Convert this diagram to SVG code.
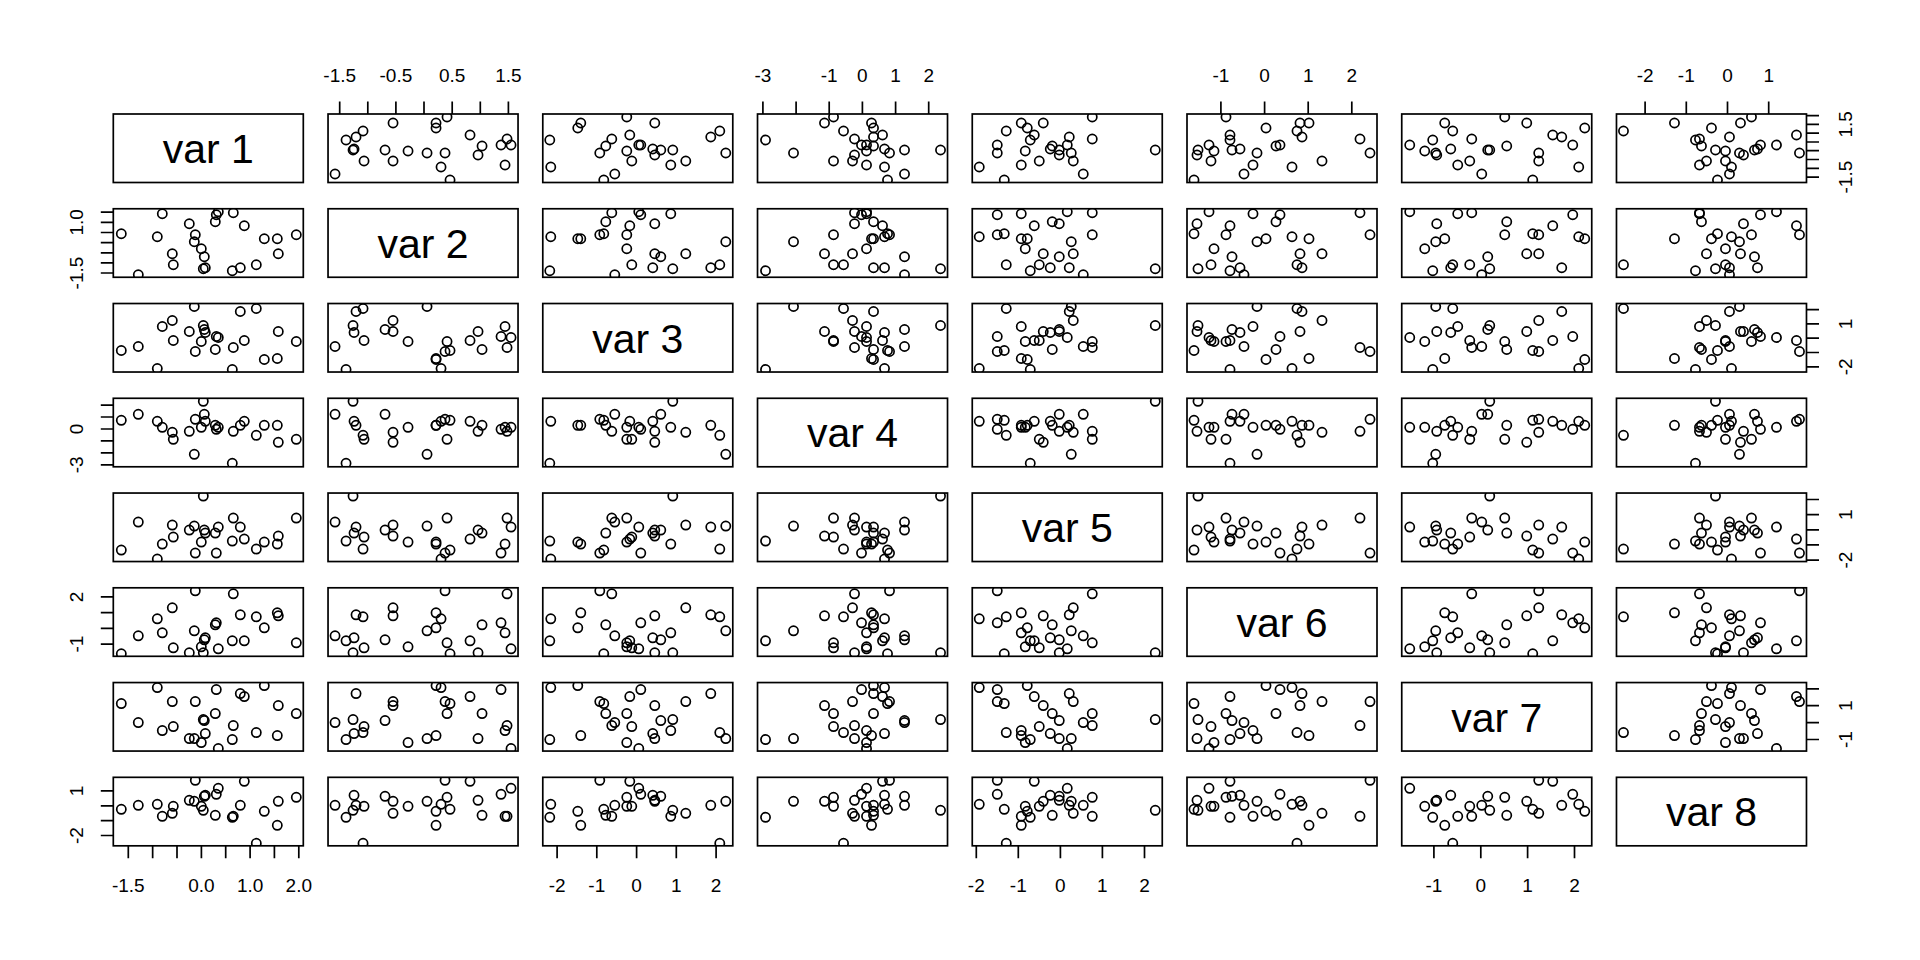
<svg xmlns="http://www.w3.org/2000/svg" width="1920" height="960" viewBox="0 0 1920 960">
<style>
.b{fill:none;stroke:#000;stroke-width:1.7}
.k{fill:none;stroke:#000;stroke-width:1.7}
.p{fill:none;stroke:none;marker-start:url(#c);marker-mid:url(#c);marker-end:url(#c)}
text{font-family:"Liberation Sans",Arial,Helvetica,sans-serif;fill:#000}
.t{font-size:19px;text-anchor:middle}
.d{font-size:41px;text-anchor:middle}
</style>
<defs>
<marker id="c" viewBox="-7 -7 14 14" markerWidth="14" markerHeight="14" markerUnits="userSpaceOnUse" refX="0" refY="0" overflow="visible"><circle r="4.6" fill="none" stroke="#000" stroke-width="1.7"/></marker>
<clipPath id="cp"><rect width="190" height="68.5"/></clipPath>
</defs>
<rect width="1920" height="960" fill="#fff"/>

<g id="row1">
<g id="p1-1" transform="translate(113.3,114)"><rect class="b" width="190" height="68.5"/><text class="d" x="95" y="49">var 1</text></g>
<g id="p1-2" transform="translate(328.04,114)"><rect class="b" width="190" height="68.5"/><g clip-path="url(#cp)"><polyline class="p" points="122,66 7,60 113,53 177,51 65,47 36,47 150,41 99,39 117,39 80,37 25,36 57,36 26,35 154,32 173,31 183,31 18,26 179,25 28,23 142,21 35,17 108,14 108,9 65,9 119,3"/></g></g>
<g id="p1-3" transform="translate(542.78,114)"><rect class="b" width="190" height="68.5"/><g clip-path="url(#cp)"><polyline class="p" points="61,66 72,60 8,53 128,51 143,47 89,47 112,41 183,39 57,39 84,37 130,36 118,36 110,35 63,32 98,31 96,31 7,26 69,25 168,23 87,21 177,17 35,14 38,9 112,9 84,3"/></g></g>
<g id="p1-4" transform="translate(757.52,114)"><rect class="b" width="190" height="68.5"/><g clip-path="url(#cp)"><polyline class="p" points="130,66 147,60 127,53 109,51 95,47 76,47 97,41 36,39 132,39 109,37 183,36 147,36 127,35 116,32 104,31 109,31 8,26 97,25 116,23 125,21 86,17 116,14 114,9 67,9 76,3"/></g></g>
<g id="p1-5" transform="translate(972.26,114)"><rect class="b" width="190" height="68.5"/><g clip-path="url(#cp)"><polyline class="p" points="32,66 111,60 7,53 49,51 101,47 67,47 87,41 99,39 25,39 53,37 183,36 87,36 78,35 80,32 25,31 95,31 58,26 120,25 97,23 62,21 34,17 55,14 49,9 71,9 120,3"/></g></g>
<g id="p1-6" transform="translate(1187,114)"><rect class="b" width="190" height="68.5"/><g clip-path="url(#cp)"><polyline class="p" points="7,66 57,60 105,53 66,51 135,47 24,47 10,41 70,39 183,39 27,37 11,36 45,36 53,35 89,32 93,31 22,31 43,26 173,25 115,23 43,21 110,17 79,14 122,9 113,9 39,3"/></g></g>
<g id="p1-7" transform="translate(1401.74,114)"><rect class="b" width="190" height="68.5"/><g clip-path="url(#cp)"><polyline class="p" points="131,66 80,60 177,53 56,51 137,47 68,47 35,41 34,39 137,39 23,37 88,36 86,36 49,35 105,32 171,31 8,31 31,26 70,25 160,23 151,21 51,17 183,14 43,9 125,9 103,3"/></g></g>
<g id="p1-8" transform="translate(1616.48,114)"><rect class="b" width="190" height="68.5"/><g clip-path="url(#cp)"><polyline class="p" points="101,66 113,60 115,53 83,51 90,47 109,47 127,41 123,39 183,39 109,37 99,36 138,36 141,35 85,32 144,31 160,31 79,26 83,25 113,23 180,21 7,17 95,14 58,9 124,9 135,3"/></g></g>
</g>

<g id="row2">
<g id="p2-1" transform="translate(113.3,208.76)"><rect class="b" width="190" height="68.5"/><g clip-path="url(#cp)"><polyline class="p" points="8,25 25,66 44,28 49,5 59,45 60,56 76,15 81,33 82,26 88,40 90,60 91,48 92,59 102,13 103,6 105,3 119,62 120,4 127,59 131,17 143,56 151,30 164,30 165,45 183,26"/></g></g>
<g id="p2-2" transform="translate(328.04,208.76)"><rect class="b" width="190" height="68.5"/><text class="d" x="95" y="49">var 2</text></g>
<g id="p2-3" transform="translate(542.78,208.76)"><rect class="b" width="190" height="68.5"/><g clip-path="url(#cp)"><polyline class="p" points="61,25 72,66 8,28 128,5 143,45 89,56 112,15 183,33 57,26 84,40 130,60 118,48 110,59 63,13 98,6 96,3 7,62 69,4 168,59 87,17 177,56 35,30 38,30 112,45 84,26"/></g></g>
<g id="p2-4" transform="translate(757.52,208.76)"><rect class="b" width="190" height="68.5"/><g clip-path="url(#cp)"><polyline class="p" points="130,25 147,66 127,28 109,5 95,45 76,56 97,15 36,33 132,26 109,40 183,60 147,48 127,59 116,13 104,6 109,3 8,62 97,4 116,59 125,17 86,56 116,30 114,30 67,45 76,26"/></g></g>
<g id="p2-5" transform="translate(972.26,208.76)"><rect class="b" width="190" height="68.5"/><g clip-path="url(#cp)"><polyline class="p" points="32,25 111,66 7,28 49,5 101,45 67,56 87,15 99,33 25,26 53,40 183,60 87,48 78,59 80,13 25,6 95,3 58,62 120,4 97,59 62,17 34,56 55,30 49,30 71,45 120,26"/></g></g>
<g id="p2-6" transform="translate(1187,208.76)"><rect class="b" width="190" height="68.5"/><g clip-path="url(#cp)"><polyline class="p" points="7,25 57,66 105,28 66,5 135,45 24,56 10,15 70,33 183,26 27,40 11,60 45,48 53,59 89,13 93,6 22,3 43,62 173,4 115,59 43,17 110,56 79,30 122,30 113,45 39,26"/></g></g>
<g id="p2-7" transform="translate(1401.74,208.76)"><rect class="b" width="190" height="68.5"/><g clip-path="url(#cp)"><polyline class="p" points="131,25 80,66 177,28 56,5 137,45 68,56 35,15 34,33 137,26 23,40 88,60 86,48 49,59 105,13 171,6 8,3 31,62 70,4 160,59 151,17 51,56 183,30 43,30 125,45 103,26"/></g></g>
<g id="p2-8" transform="translate(1616.48,208.76)"><rect class="b" width="190" height="68.5"/><g clip-path="url(#cp)"><polyline class="p" points="101,25 113,66 115,28 83,5 90,45 109,56 127,15 123,33 183,26 109,40 99,60 138,48 141,59 85,13 144,6 160,3 79,62 83,4 113,59 180,17 7,56 95,30 58,30 124,45 135,26"/></g></g>
</g>

<g id="row3">
<g id="p3-1" transform="translate(113.3,303.52)"><rect class="b" width="190" height="68.5"/><g clip-path="url(#cp)"><polyline class="p" points="8,47 25,43 44,65 49,23 59,17 60,37 76,28 81,3 82,48 88,38 90,22 91,26 92,29 102,46 103,33 105,34 119,66 120,44 127,8 131,37 143,5 151,56 164,55 165,28 183,38"/></g></g>
<g id="p3-2" transform="translate(328.04,303.52)"><rect class="b" width="190" height="68.5"/><g clip-path="url(#cp)"><polyline class="p" points="122,47 7,43 113,65 177,23 65,17 36,37 150,28 99,3 117,48 80,38 25,22 57,26 26,29 154,46 173,33 183,34 18,66 179,44 28,8 142,37 35,5 108,56 108,55 65,28 119,38"/></g></g>
<g id="p3-3" transform="translate(542.78,303.52)"><rect class="b" width="190" height="68.5"/><text class="d" x="95" y="49">var 3</text></g>
<g id="p3-4" transform="translate(757.52,303.52)"><rect class="b" width="190" height="68.5"/><g clip-path="url(#cp)"><polyline class="p" points="130,47 147,43 127,65 109,23 95,17 76,37 97,28 36,3 132,48 109,38 183,22 147,26 127,29 116,46 104,33 109,34 8,66 97,44 116,8 125,37 86,5 116,56 114,55 67,28 76,38"/></g></g>
<g id="p3-5" transform="translate(972.26,303.52)"><rect class="b" width="190" height="68.5"/><g clip-path="url(#cp)"><polyline class="p" points="32,47 111,43 7,65 49,23 101,17 67,37 87,28 99,3 25,48 53,38 183,22 87,26 78,29 80,46 25,33 95,34 58,66 120,44 97,8 62,37 34,5 55,56 49,55 71,28 120,38"/></g></g>
<g id="p3-6" transform="translate(1187,303.52)"><rect class="b" width="190" height="68.5"/><g clip-path="url(#cp)"><polyline class="p" points="7,47 57,43 105,65 66,23 135,17 24,37 10,28 70,3 183,48 27,38 11,22 45,26 53,29 89,46 93,33 22,34 43,66 173,44 115,8 43,37 110,5 79,56 122,55 113,28 39,38"/></g></g>
<g id="p3-7" transform="translate(1401.74,303.52)"><rect class="b" width="190" height="68.5"/><g clip-path="url(#cp)"><polyline class="p" points="131,47 80,43 177,65 56,23 137,17 68,37 35,28 34,3 137,48 23,38 88,22 86,26 49,29 105,46 171,33 8,34 31,66 70,44 160,8 151,37 51,5 183,56 43,55 125,28 103,38"/></g></g>
<g id="p3-8" transform="translate(1616.48,303.52)"><rect class="b" width="190" height="68.5"/><g clip-path="url(#cp)"><polyline class="p" points="101,47 113,43 115,65 83,23 90,17 109,37 127,28 123,3 183,48 109,38 99,22 138,26 141,29 85,46 144,33 160,34 79,66 83,44 113,8 180,37 7,5 95,56 58,55 124,28 135,38"/></g></g>
</g>

<g id="row4">
<g id="p4-1" transform="translate(113.3,398.28)"><rect class="b" width="190" height="68.5"/><g clip-path="url(#cp)"><polyline class="p" points="8,22 25,16 44,23 49,29 59,34 60,41 76,33 81,56 82,21 88,29 90,3 91,16 92,23 102,27 103,31 105,29 119,65 120,33 127,27 131,23 143,37 151,27 164,27 165,44 183,41"/></g></g>
<g id="p4-2" transform="translate(328.04,398.28)"><rect class="b" width="190" height="68.5"/><g clip-path="url(#cp)"><polyline class="p" points="122,22 7,16 113,23 177,29 65,34 36,41 150,33 99,56 117,21 80,29 25,3 57,16 26,23 154,27 173,31 183,29 18,65 179,33 28,27 142,23 35,37 108,27 108,27 65,44 119,41"/></g></g>
<g id="p4-3" transform="translate(542.78,398.28)"><rect class="b" width="190" height="68.5"/><g clip-path="url(#cp)"><polyline class="p" points="61,22 72,16 8,23 128,29 143,34 89,41 112,33 183,56 57,21 84,29 130,3 118,16 110,23 63,27 98,31 96,29 7,65 69,33 168,27 87,23 177,37 35,27 38,27 112,44 84,41"/></g></g>
<g id="p4-4" transform="translate(757.52,398.28)"><rect class="b" width="190" height="68.5"/><text class="d" x="95" y="49">var 4</text></g>
<g id="p4-5" transform="translate(972.26,398.28)"><rect class="b" width="190" height="68.5"/><g clip-path="url(#cp)"><polyline class="p" points="32,22 111,16 7,23 49,29 101,34 67,41 87,33 99,56 25,21 53,29 183,3 87,16 78,23 80,27 25,31 95,29 58,65 120,33 97,27 62,23 34,37 55,27 49,27 71,44 120,41"/></g></g>
<g id="p4-6" transform="translate(1187,398.28)"><rect class="b" width="190" height="68.5"/><g clip-path="url(#cp)"><polyline class="p" points="7,22 57,16 105,23 66,29 135,34 24,41 10,33 70,56 183,21 27,29 11,3 45,16 53,23 89,27 93,31 22,29 43,65 173,33 115,27 43,23 110,37 79,27 122,27 113,44 39,41"/></g></g>
<g id="p4-7" transform="translate(1401.74,398.28)"><rect class="b" width="190" height="68.5"/><g clip-path="url(#cp)"><polyline class="p" points="131,22 80,16 177,23 56,29 137,34 68,41 35,33 34,56 137,21 23,29 88,3 86,16 49,23 105,27 171,31 8,29 31,65 70,33 160,27 151,23 51,37 183,27 43,27 125,44 103,41"/></g></g>
<g id="p4-8" transform="translate(1616.48,398.28)"><rect class="b" width="190" height="68.5"/><g clip-path="url(#cp)"><polyline class="p" points="101,22 113,16 115,23 83,29 90,34 109,41 127,33 123,56 183,21 109,29 99,3 138,16 141,23 85,27 144,31 160,29 79,65 83,33 113,27 180,23 7,37 95,27 58,27 124,44 135,41"/></g></g>
</g>

<g id="row5">
<g id="p5-1" transform="translate(113.3,493.04)"><rect class="b" width="190" height="68.5"/><g clip-path="url(#cp)"><polyline class="p" points="8,57 25,29 44,66 49,51 59,32 60,44 76,37 81,33 82,60 88,49 90,3 91,37 92,40 102,40 103,60 105,34 119,48 120,25 127,34 131,46 143,56 151,49 164,51 165,43 183,25"/></g></g>
<g id="p5-2" transform="translate(328.04,493.04)"><rect class="b" width="190" height="68.5"/><g clip-path="url(#cp)"><polyline class="p" points="122,57 7,29 113,66 177,51 65,32 36,44 150,37 99,33 117,60 80,49 25,3 57,37 26,40 154,40 173,60 183,34 18,48 179,25 28,34 142,46 35,56 108,49 108,51 65,43 119,25"/></g></g>
<g id="p5-3" transform="translate(542.78,493.04)"><rect class="b" width="190" height="68.5"/><g clip-path="url(#cp)"><polyline class="p" points="61,57 72,29 8,66 128,51 143,32 89,44 112,37 183,33 57,60 84,49 130,3 118,37 110,40 63,40 98,60 96,34 7,48 69,25 168,34 87,46 177,56 35,49 38,51 112,43 84,25"/></g></g>
<g id="p5-4" transform="translate(757.52,493.04)"><rect class="b" width="190" height="68.5"/><g clip-path="url(#cp)"><polyline class="p" points="130,57 147,29 127,66 109,51 95,32 76,44 97,37 36,33 132,60 109,49 183,3 147,37 127,40 116,40 104,60 109,34 8,48 97,25 116,34 125,46 86,56 116,49 114,51 67,43 76,25"/></g></g>
<g id="p5-5" transform="translate(972.26,493.04)"><rect class="b" width="190" height="68.5"/><text class="d" x="95" y="49">var 5</text></g>
<g id="p5-6" transform="translate(1187,493.04)"><rect class="b" width="190" height="68.5"/><g clip-path="url(#cp)"><polyline class="p" points="7,57 57,29 105,66 66,51 135,32 24,44 10,37 70,33 183,60 27,49 11,3 45,37 53,40 89,40 93,60 22,34 43,48 173,25 115,34 43,46 110,56 79,49 122,51 113,43 39,25"/></g></g>
<g id="p5-7" transform="translate(1401.74,493.04)"><rect class="b" width="190" height="68.5"/><g clip-path="url(#cp)"><polyline class="p" points="131,57 80,29 177,66 56,51 137,32 68,44 35,37 34,33 137,60 23,49 88,3 86,37 49,40 105,40 171,60 8,34 31,48 70,25 160,34 151,46 51,56 183,49 43,51 125,43 103,25"/></g></g>
<g id="p5-8" transform="translate(1616.48,493.04)"><rect class="b" width="190" height="68.5"/><g clip-path="url(#cp)"><polyline class="p" points="101,57 113,29 115,66 83,51 90,32 109,44 127,37 123,33 183,60 109,49 99,3 138,37 141,40 85,40 144,60 160,34 79,48 83,25 113,34 180,46 7,56 95,49 58,51 124,43 135,25"/></g></g>
</g>

<g id="row6">
<g id="p6-1" transform="translate(113.3,587.8)"><rect class="b" width="190" height="68.5"/><g clip-path="url(#cp)"><polyline class="p" points="8,66 25,48 44,31 49,45 59,20 60,60 76,65 81,43 82,3 88,59 90,65 91,52 92,50 102,37 103,35 105,61 119,53 120,6 127,27 131,53 143,29 151,40 164,25 165,28 183,55"/></g></g>
<g id="p6-2" transform="translate(328.04,587.8)"><rect class="b" width="190" height="68.5"/><g clip-path="url(#cp)"><polyline class="p" points="122,66 7,48 113,31 177,45 65,20 36,60 150,65 99,43 117,3 80,59 25,65 57,52 26,50 154,37 173,35 183,61 18,53 179,6 28,27 142,53 35,29 108,40 108,25 65,28 119,55"/></g></g>
<g id="p6-3" transform="translate(542.78,587.8)"><rect class="b" width="190" height="68.5"/><g clip-path="url(#cp)"><polyline class="p" points="61,66 72,48 8,31 128,45 143,20 89,60 112,65 183,43 57,3 84,59 130,65 118,52 110,50 63,37 98,35 96,61 7,53 69,6 168,27 87,53 177,29 35,40 38,25 112,28 84,55"/></g></g>
<g id="p6-4" transform="translate(757.52,587.8)"><rect class="b" width="190" height="68.5"/><g clip-path="url(#cp)"><polyline class="p" points="130,66 147,48 127,31 109,45 95,20 76,60 97,65 36,43 132,3 109,59 183,65 147,52 127,50 116,37 104,35 109,61 8,53 97,6 116,27 125,53 86,29 116,40 114,25 67,28 76,55"/></g></g>
<g id="p6-5" transform="translate(972.26,587.8)"><rect class="b" width="190" height="68.5"/><g clip-path="url(#cp)"><polyline class="p" points="32,66 111,48 7,31 49,45 101,20 67,60 87,65 99,43 25,3 53,59 183,65 87,52 78,50 80,37 25,35 95,61 58,53 120,6 97,27 62,53 34,29 55,40 49,25 71,28 120,55"/></g></g>
<g id="p6-6" transform="translate(1187,587.8)"><rect class="b" width="190" height="68.5"/><text class="d" x="95" y="49">var 6</text></g>
<g id="p6-7" transform="translate(1401.74,587.8)"><rect class="b" width="190" height="68.5"/><g clip-path="url(#cp)"><polyline class="p" points="131,66 80,48 177,31 56,45 137,20 68,60 35,65 34,43 137,3 23,59 88,65 86,52 49,50 105,37 171,35 8,61 31,53 70,6 160,27 151,53 51,29 183,40 43,25 125,28 103,55"/></g></g>
<g id="p6-8" transform="translate(1616.48,587.8)"><rect class="b" width="190" height="68.5"/><g clip-path="url(#cp)"><polyline class="p" points="101,66 113,48 115,31 83,45 90,20 109,60 127,65 123,43 183,3 109,59 99,65 138,52 141,50 85,37 144,35 160,61 79,53 83,6 113,27 180,53 7,29 95,40 58,25 124,28 135,55"/></g></g>
</g>

<g id="row7">
<g id="p7-1" transform="translate(113.3,682.56)"><rect class="b" width="190" height="68.5"/><g clip-path="url(#cp)"><polyline class="p" points="8,21 25,40 44,5 49,48 59,19 60,44 76,56 81,56 82,19 88,60 90,37 91,38 92,51 102,31 103,7 105,66 119,57 120,43 127,11 131,14 143,50 151,3 164,53 165,23 183,31"/></g></g>
<g id="p7-2" transform="translate(328.04,682.56)"><rect class="b" width="190" height="68.5"/><g clip-path="url(#cp)"><polyline class="p" points="122,21 7,40 113,5 177,48 65,19 36,44 150,56 99,56 117,19 80,60 25,37 57,38 26,51 154,31 173,7 183,66 18,57 179,43 28,11 142,14 35,50 108,3 108,53 65,23 119,31"/></g></g>
<g id="p7-3" transform="translate(542.78,682.56)"><rect class="b" width="190" height="68.5"/><g clip-path="url(#cp)"><polyline class="p" points="61,21 72,40 8,5 128,48 143,19 89,44 112,56 183,56 57,19 84,60 130,37 118,38 110,51 63,31 98,7 96,66 7,57 69,43 168,11 87,14 177,50 35,3 38,53 112,23 84,31"/></g></g>
<g id="p7-4" transform="translate(757.52,682.56)"><rect class="b" width="190" height="68.5"/><g clip-path="url(#cp)"><polyline class="p" points="130,21 147,40 127,5 109,48 95,19 76,44 97,56 36,56 132,19 109,60 183,37 147,38 127,51 116,31 104,7 109,66 8,57 97,43 116,11 125,14 86,50 116,3 114,53 67,23 76,31"/></g></g>
<g id="p7-5" transform="translate(972.26,682.56)"><rect class="b" width="190" height="68.5"/><g clip-path="url(#cp)"><polyline class="p" points="32,21 111,40 7,5 49,48 101,19 67,44 87,56 99,56 25,19 53,60 183,37 87,38 78,51 80,31 25,7 95,66 58,57 120,43 97,11 62,14 34,50 55,3 49,53 71,23 120,31"/></g></g>
<g id="p7-6" transform="translate(1187,682.56)"><rect class="b" width="190" height="68.5"/><g clip-path="url(#cp)"><polyline class="p" points="7,21 57,40 105,5 66,48 135,19 24,44 10,56 70,56 183,19 27,60 11,37 45,38 53,51 89,31 93,7 22,66 43,57 173,43 115,11 43,14 110,50 79,3 122,53 113,23 39,31"/></g></g>
<g id="p7-7" transform="translate(1401.74,682.56)"><rect class="b" width="190" height="68.5"/><text class="d" x="95" y="49">var 7</text></g>
<g id="p7-8" transform="translate(1616.48,682.56)"><rect class="b" width="190" height="68.5"/><g clip-path="url(#cp)"><polyline class="p" points="101,21 113,40 115,5 83,48 90,19 109,44 127,56 123,56 183,19 109,60 99,37 138,38 141,51 85,31 144,7 160,66 79,57 83,43 113,11 180,14 7,50 95,3 58,53 124,23 135,31"/></g></g>
</g>

<g id="row8">
<g id="p8-1" transform="translate(113.3,777.32)"><rect class="b" width="190" height="68.5"/><g clip-path="url(#cp)"><polyline class="p" points="8,32 25,28 44,27 49,39 59,36 60,29 76,23 81,24 82,3 88,29 90,33 91,19 92,18 102,38 103,17 105,11 119,40 120,39 127,28 131,4 143,66 151,34 164,48 165,24 183,20"/></g></g>
<g id="p8-2" transform="translate(328.04,777.32)"><rect class="b" width="190" height="68.5"/><g clip-path="url(#cp)"><polyline class="p" points="122,32 7,28 113,27 177,39 65,36 36,29 150,23 99,24 117,3 80,29 25,33 57,19 26,18 154,38 173,17 183,11 18,40 179,39 28,28 142,4 35,66 108,34 108,48 65,24 119,20"/></g></g>
<g id="p8-3" transform="translate(542.78,777.32)"><rect class="b" width="190" height="68.5"/><g clip-path="url(#cp)"><polyline class="p" points="61,32 72,28 8,27 128,39 143,36 89,29 112,23 183,24 57,3 84,29 130,33 118,19 110,18 63,38 98,17 96,11 7,40 69,39 168,28 87,4 177,66 35,34 38,48 112,24 84,20"/></g></g>
<g id="p8-4" transform="translate(757.52,777.32)"><rect class="b" width="190" height="68.5"/><g clip-path="url(#cp)"><polyline class="p" points="130,32 147,28 127,27 109,39 95,36 76,29 97,23 36,24 132,3 109,29 183,33 147,19 127,18 116,38 104,17 109,11 8,40 97,39 116,28 125,4 86,66 116,34 114,48 67,24 76,20"/></g></g>
<g id="p8-5" transform="translate(972.26,777.32)"><rect class="b" width="190" height="68.5"/><g clip-path="url(#cp)"><polyline class="p" points="32,32 111,28 7,27 49,39 101,36 67,29 87,23 99,24 25,3 53,29 183,33 87,19 78,18 80,38 25,17 95,11 58,40 120,39 97,28 62,4 34,66 55,34 49,48 71,24 120,20"/></g></g>
<g id="p8-6" transform="translate(1187,777.32)"><rect class="b" width="190" height="68.5"/><g clip-path="url(#cp)"><polyline class="p" points="7,32 57,28 105,27 66,39 135,36 24,29 10,23 70,24 183,3 27,29 11,33 45,19 53,18 89,38 93,17 22,11 43,40 173,39 115,28 43,4 110,66 79,34 122,48 113,24 39,20"/></g></g>
<g id="p8-7" transform="translate(1401.74,777.32)"><rect class="b" width="190" height="68.5"/><g clip-path="url(#cp)"><polyline class="p" points="131,32 80,28 177,27 56,39 137,36 68,29 35,23 34,24 137,3 23,29 88,33 86,19 49,18 105,38 171,17 8,11 31,40 70,39 160,28 151,4 51,66 183,34 43,48 125,24 103,20"/></g></g>
<g id="p8-8" transform="translate(1616.48,777.32)"><rect class="b" width="190" height="68.5"/><text class="d" x="95" y="49">var 8</text></g>
</g>

<g id="axes">
<path class="k" d="M128.3,845.8V858.3M152.65,845.8V858.3M177,845.8V858.3M201.4,845.8V858.3M225.7,845.8V858.3M250.1,845.8V858.3M274.4,845.8V858.3M298.8,845.8V858.3
M557.1,845.8V858.3M596.8,845.8V858.3M636.6,845.8V858.3M676.3,845.8V858.3M716.1,845.8V858.3
M976.3,845.8V858.3M1018.3,845.8V858.3M1060.4,845.8V858.3M1102.4,845.8V858.3M1144.5,845.8V858.3
M1433.9,845.8V858.3M1480.8,845.8V858.3M1527.6,845.8V858.3M1574.5,845.8V858.3
M339.7,114V101.5M367.8,114V101.5M395.9,114V101.5M424,114V101.5M452.2,114V101.5M480.3,114V101.5M508.4,114V101.5
M762.9,114V101.5M796.1,114V101.5M829.2,114V101.5M862.4,114V101.5M895.6,114V101.5M928.7,114V101.5
M1220.9,114V101.5M1264.6,114V101.5M1308.2,114V101.5M1351.8,114V101.5
M1645.1,114V101.5M1686.3,114V101.5M1727.5,114V101.5M1768.7,114V101.5
M113.3,273H100.8M113.3,262.9H100.8M113.3,252.8H100.8M113.3,242.6H100.8M113.3,232.5H100.8M113.3,222.4H100.8M113.3,212.2H100.8
M113.3,464.8H100.8M113.3,452.9H100.8M113.3,440.9H100.8M113.3,429H100.8M113.3,417H100.8M113.3,405.1H100.8
M113.3,644.1H100.8M113.3,628.3H100.8M113.3,612.6H100.8M113.3,596.9H100.8
M113.3,835.5H100.8M113.3,820.6H100.8M113.3,805.8H100.8M113.3,790.9H100.8
M1806.5,177.1H1819M1806.5,168.3H1819M1806.5,159.5H1819M1806.5,150.7H1819M1806.5,142H1819M1806.5,133.2H1819M1806.5,124.4H1819M1806.5,115.6H1819
M1806.5,366.9H1819M1806.5,352.5H1819M1806.5,338.2H1819M1806.5,323.9H1819M1806.5,309.6H1819
M1806.5,560.1H1819M1806.5,544.9H1819M1806.5,529.8H1819M1806.5,514.6H1819M1806.5,499.5H1819
M1806.5,739.5H1819M1806.5,722.6H1819M1806.5,705.7H1819M1806.5,688.8H1819"/>
<g class="t">
<text x="128.3" y="891.7">-1.5</text><text x="201.4" y="891.7">0.0</text><text x="250.1" y="891.7">1.0</text><text x="298.8" y="891.7">2.0</text>
<text x="557.1" y="891.7">-2</text><text x="596.8" y="891.7">-1</text><text x="636.6" y="891.7">0</text><text x="676.3" y="891.7">1</text><text x="716.1" y="891.7">2</text>
<text x="976.3" y="891.7">-2</text><text x="1018.3" y="891.7">-1</text><text x="1060.4" y="891.7">0</text><text x="1102.4" y="891.7">1</text><text x="1144.5" y="891.7">2</text>
<text x="1433.9" y="891.7">-1</text><text x="1480.8" y="891.7">0</text><text x="1527.6" y="891.7">1</text><text x="1574.5" y="891.7">2</text>
<text x="339.7" y="82">-1.5</text><text x="395.9" y="82">-0.5</text><text x="452.2" y="82">0.5</text><text x="508.4" y="82">1.5</text>
<text x="762.9" y="82">-3</text><text x="829.2" y="82">-1</text><text x="862.4" y="82">0</text><text x="895.6" y="82">1</text><text x="928.7" y="82">2</text>
<text x="1220.9" y="82">-1</text><text x="1264.6" y="82">0</text><text x="1308.2" y="82">1</text><text x="1351.8" y="82">2</text>
<text x="1645.1" y="82">-2</text><text x="1686.3" y="82">-1</text><text x="1727.5" y="82">0</text><text x="1768.7" y="82">1</text>
<text transform="translate(83.3,222.4) rotate(-90)">1.0</text><text transform="translate(83.3,273) rotate(-90)">-1.5</text>
<text transform="translate(83.3,429) rotate(-90)">0</text><text transform="translate(83.3,464.8) rotate(-90)">-3</text>
<text transform="translate(83.3,596.9) rotate(-90)">2</text><text transform="translate(83.3,644.1) rotate(-90)">-1</text>
<text transform="translate(83.3,790.9) rotate(-90)">1</text><text transform="translate(83.3,835.5) rotate(-90)">-2</text>
<text transform="translate(1851.7,124.4) rotate(-90)">1.5</text><text transform="translate(1851.7,177.1) rotate(-90)">-1.5</text>
<text transform="translate(1851.7,323.9) rotate(-90)">1</text><text transform="translate(1851.7,366.9) rotate(-90)">-2</text>
<text transform="translate(1851.7,514.6) rotate(-90)">1</text><text transform="translate(1851.7,560.1) rotate(-90)">-2</text>
<text transform="translate(1851.7,705.7) rotate(-90)">1</text><text transform="translate(1851.7,739.5) rotate(-90)">-1</text>
</g>
</g>
</svg>
